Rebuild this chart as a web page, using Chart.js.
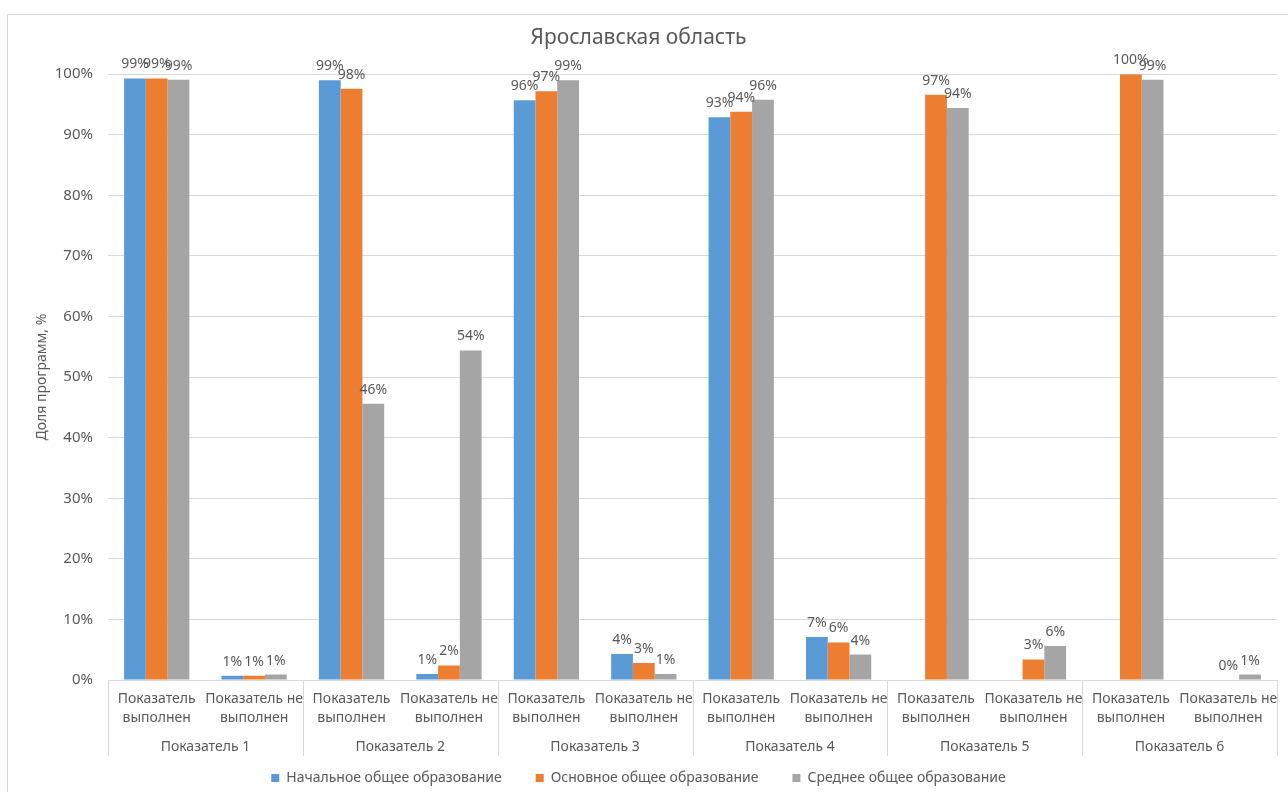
<!DOCTYPE html>
<html lang="ru">
<head>
<meta charset="utf-8">
<title>Ярославская область</title>
<script src="https://cdn.jsdelivr.net/npm/chart.js@4.4.1/dist/chart.umd.min.js"></script>
<style>
    html, body { margin: 0; padding: 0; background: #fff; }
    #wrap { width: 1288px; height: 792px; position: relative; }
</style>
</head>
<body>
<div id="wrap"><canvas id="chartMain"></canvas></div>
<script>
// categories (two-level axis)
const GROUPS = ['Показатель 1', 'Показатель 2', 'Показатель 3', 'Показатель 4', 'Показатель 5', 'Показатель 6'];
const SUB_LABELS = [['Показатель', 'выполнен'], ['Показатель не', 'выполнен']];

const SERIES_NAMES = ['Начальное общее образование', 'Основное общее образование', 'Среднее общее образование'];

// values, %
const PRIMARY_VALUES = [99.3, 0.7, 99.0, 1.0, 95.7, 4.3, 92.9, 7.1, null, null, null, null];
const BASIC_VALUES = [99.3, 0.7, 97.6, 2.4, 97.2, 2.8, 93.8, 6.2, 96.6, 3.4, 100, 0];
const SECONDARY_VALUES = [99.1, 0.9, 45.6, 54.4, 99.0, 1.0, 95.8, 4.2, 94.4, 5.6, 99.1, 0.9];

const Y_TICKS = [0, 10, 20, 30, 40, 50, 60, 70, 80, 90, 100];

document.addEventListener("DOMContentLoaded", (event) => {
    const FONT = "'Noto Sans', 'DejaVu Sans', sans-serif";
    const TEXT_COLOR = '#595959';
    const GRID_COLOR = '#D9D9D9';
    const COLORS = ['#5B9BD5', '#ED7D31', '#A5A5A5'];

    Chart.defaults.font.family = FONT;
    Chart.defaults.color = TEXT_COLOR;

    const labels = [];
    GROUPS.forEach(() => { SUB_LABELS.forEach(l => labels.push(l)); });

    const seriesValues = [PRIMARY_VALUES, BASIC_VALUES, SECONDARY_VALUES];

    // frame + white background
    const framePlugin = {
        id: 'frame',
        beforeDraw: (chart) => {
            const ctx = chart.ctx;
            ctx.save();
            ctx.fillStyle = '#fff';
            ctx.fillRect(0, 0, chart.width, chart.height);
            ctx.strokeStyle = GRID_COLOR;
            ctx.lineWidth = 1;
            ctx.strokeRect(7.5, 14.5, chart.width + 20, chart.height + 20);
            ctx.restore();
        }
    };

    // outer level of the category axis: separators and group names
    const groupAxisPlugin = {
        id: 'groupAxis',
        afterDraw: (chart) => {
            const ctx = chart.ctx;
            const x = chart.scales.x;
            const step = (x.right - x.left) / GROUPS.length;
            ctx.save();
            ctx.strokeStyle = GRID_COLOR;
            ctx.lineWidth = 1;
            for (let g = 0; g <= GROUPS.length; g++) {
                const px = Math.round(x.left + g * step) + 0.5;
                ctx.beginPath();
                ctx.moveTo(px, x.top);
                ctx.lineTo(px, x.top + 76);
                ctx.stroke();
            }
            ctx.fillStyle = TEXT_COLOR;
            ctx.font = '14px ' + FONT;
            ctx.textAlign = 'center';
            ctx.textBaseline = 'middle';
            GROUPS.forEach((name, g) => {
                ctx.fillText(name, x.left + (g + 0.5) * step, x.top + 67);
            });
            ctx.restore();
        }
    };

    // value labels above bars
    const valueLabelPlugin = {
        id: 'valueLabels',
        afterDatasetsDraw: (chart) => {
            const ctx = chart.ctx;
            ctx.save();
            ctx.fillStyle = TEXT_COLOR;
            ctx.font = '14px ' + FONT;
            ctx.textAlign = 'center';
            ctx.textBaseline = 'bottom';
            chart.data.datasets.forEach((ds, i) => {
                const meta = chart.getDatasetMeta(i);
                meta.data.forEach((bar, j) => {
                    const v = ds.data[j];
                    if (v === null || v === undefined) return;
                    ctx.fillText(Math.round(v) + '%', bar.x, bar.y - 7);
                });
            });
            ctx.restore();
        }
    };

    new Chart('chartMain', {
        type: 'bar',
        data: {
            labels: labels,
            datasets: SERIES_NAMES.map((name, i) => ({
                label: name,
                data: seriesValues[i],
                backgroundColor: COLORS[i],
                borderWidth: 0,
                categoryPercentage: 0.67,
                barPercentage: 1
            }))
        },
        options: {
            responsive: true,
            maintainAspectRatio: false,
            animation: false,
            layout: {
                // negative bottom: legend box hangs a bit below the canvas so its row sits at y~777
                padding: { top: 25, right: 11, bottom: -3, left: 0 }
            },
            plugins: {
                title: {
                    display: true,
                    text: 'Ярославская область',
                    color: TEXT_COLOR,
                    font: { size: 21, weight: 'normal' },
                    padding: { top: 0, bottom: 24 }
                },
                legend: {
                    position: 'bottom',
                    labels: {
                        boxWidth: 8,
                        boxHeight: 8,
                        padding: 34,
                        color: TEXT_COLOR,
                        font: { size: 14 }
                    }
                },
                tooltip: { enabled: false }
            },
            scales: {
                x: {
                    grid: { display: false, drawTicks: false },
                    border: { display: true, color: GRID_COLOR },
                    ticks: {
                        autoSkip: false,
                        maxRotation: 0,
                        padding: 9,
                        color: TEXT_COLOR,
                        font: { size: 14, lineHeight: 1.4 }
                    },
                    afterFit: (scale) => { scale.height = 57; }
                },
                y: {
                    min: 0,
                    max: 100,
                    afterBuildTicks: (scale) => { scale.ticks = Y_TICKS.map(v => ({ value: v })); },
                    grid: { color: GRID_COLOR, drawTicks: false },
                    border: { display: false },
                    ticks: {
                        padding: 15,
                        color: TEXT_COLOR,
                        font: { size: 15 },
                        callback: (v) => v + '%'
                    },
                    title: {
                        display: true,
                        text: 'Доля программ, %',
                        color: TEXT_COLOR,
                        font: { size: 14, weight: 'normal' },
                        padding: { top: 34, bottom: 0 }
                    },
                    afterFit: (scale) => { scale.width = 108; }
                }
            }
        },
        plugins: [framePlugin, groupAxisPlugin, valueLabelPlugin]
    });
});
</script>
</body>
</html>
